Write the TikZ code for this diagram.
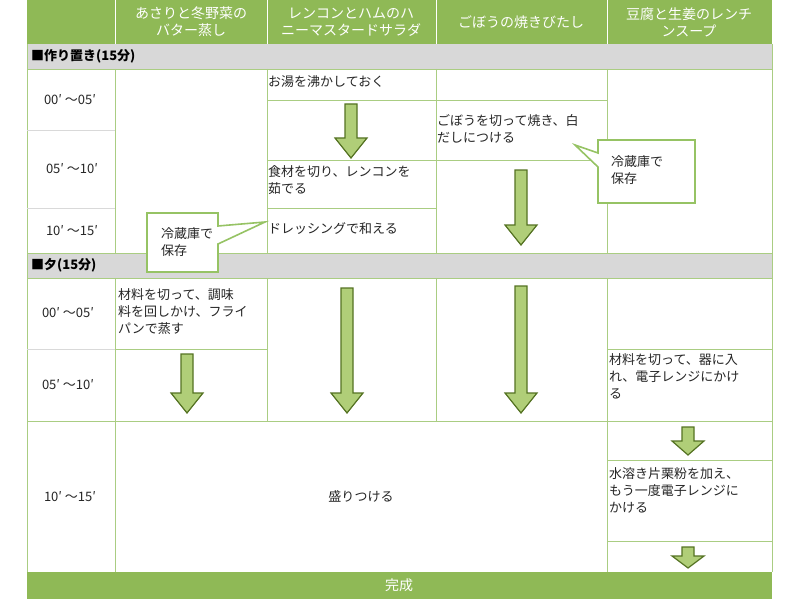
\documentclass[tikz,border=0pt]{standalone}
\usepackage{fontspec}
\setmainfont{Noto Sans CJK JP}
\begin{document}
\begin{tikzpicture}[x=1pt,y=-1pt,
  grid/.style={draw=gline,line width=0.8pt},
  txt/.style={anchor=north west,inner sep=1pt,align=left,font=\fontsize{13}{17}\selectfont,text=black!85},
  ctr/.style={inner sep=1pt,align=center,font=\fontsize{13}{16}\selectfont,text=black!85},
  hdr/.style={inner sep=1pt,align=center,font=\fontsize{14}{17}\selectfont,text=white},
  bar/.style={anchor=west,inner sep=2pt,font=\bfseries\fontsize{13}{15}\selectfont},
  blk/.style={fill=afill,draw=aline,line width=1.2pt,line join=miter},
  call/.style={fill=white,draw=gline2,line width=1.6pt}]
\definecolor{hgreen}{RGB}{143,185,86}
\definecolor{gline}{RGB}{170,205,130}
\definecolor{gline2}{RGB}{150,195,100}
\definecolor{afill}{RGB}{176,206,120}
\definecolor{aline}{RGB}{85,115,35}
\definecolor{gbar}{RGB}{216,216,216}
\newcommand\dnarr[4]{\draw[blk] (#1-6,#2) -- (#1+6,#2) -- (#1+6,#3-#4) -- (#1+16,#3-#4) -- (#1,#3) -- (#1-16,#3-#4) -- (#1-6,#3-#4) -- cycle;}
\fill[white] (0,0) rectangle (800,599);
\useasboundingbox (0,0) rectangle (800,599);
% header
\fill[hgreen] (27,0) rectangle (772,44);
\foreach \x in {115,267,436,607} \draw[white,line width=0.8pt] (\x,0) -- (\x,44);
\node[hdr] (h1) at (191,22) {あさりと冬野菜の\\バター蒸し};
\node[hdr] (h2) at (351,22) {レンコンとハムのハ\\ニーマスタードサラダ};
\node[hdr] (h3) at (521,22) {ごぼうの焼きびたし};
\node[hdr] (h4) at (689,22) {豆腐と生姜のレンチ\\ンスープ};
% section bars
\fill[gbar] (27,44) rectangle (772,69);
\node[bar] (s1) at (29,56.5) {■作り置き(15分)};
\fill[gbar] (27,253) rectangle (772,278);
\node[bar] (s2) at (29,265.5) {■夕(15分)};
% finish
\fill[hgreen] (27,572) rectangle (772,599);
\node[hdr] (fin) at (399,585) {完成};
% grid lines
\draw[grid] (27,44) -- (27,572) (772,44) -- (772,572);
\foreach \x in {115,267,436,607} \draw[grid] (\x,69) -- (\x,253) (\x,278) -- (\x,421);
\draw[grid] (115,421) -- (115,572) (607,421) -- (607,572);
\draw[grid] (27,69) -- (772,69) (27,253) -- (772,253) (27,278) -- (772,278) (27,421) -- (772,421);
\draw[draw=black!15,line width=0.8pt] (27,130) -- (115,130) (27,208) -- (115,208) (27,349) -- (115,349);
\draw[grid] (267,100) -- (607,100) (267,160) -- (607,160) (267,208) -- (436,208);
\draw[grid] (115,349) -- (267,349) (607,349) -- (772,349) (607,460) -- (772,460) (607,541) -- (772,541);
% time labels
\node[ctr] (t1) at (70,100) {00′ ～05′};
\node[ctr] (t2) at (72,169) {05′ ～10′};
\node[ctr] (t3) at (72,231) {10′ ～15′};
\node[ctr] (t4) at (68,313) {00′ ～05′};
\node[ctr] (t5) at (68,385) {05′ ～10′};
\node[ctr] (t6) at (70,497) {10′ ～15′};
% texts
\node[txt] (a1) at (267,74) {お湯を沸かしておく};
\node[txt] (a2) at (267,164) {食材を切り、レンコンを\\茹でる};
\node[txt] (a3) at (267,221) {ドレッシングで和える};
\node[txt] (b1) at (436,113) {ごぼうを切って焼き、白\\だしにつける};
\node[txt] (c1) at (117,287) {材料を切って、調味\\料を回しかけ、フライ\\パンで蒸す};
\node[txt] (d1) at (608,352) {材料を切って、器に入\\れ、電子レンジにかけ\\る};
\node[txt] (d2) at (608,466) {水溶き片栗粉を加え、\\もう一度電子レンジに\\かける};
\node[ctr] (m1) at (361,496) {盛りつける};
% arrows
\dnarr{351}{104}{158}{20}
\dnarr{521}{170}{245}{20}
\dnarr{187}{354}{413}{20}
\dnarr{347}{288}{413}{20}
\dnarr{521}{286}{413}{20}
\dnarr{688}{427}{455}{14}
\dnarr{688}{547}{568}{12}
% callouts
\draw[call] (147,213) -- (218,213) -- (218,226) -- (265,222) -- (218,244) -- (218,272) -- (147,272) -- cycle;
\node[txt] (k1) at (160,226) {冷蔵庫で\\保存};
\draw[call] (598,140) -- (695,140) -- (695,203) -- (598,203) -- (598,167) -- (575,145) -- (598,153) -- cycle;
\node[txt] (k2) at (610,154) {冷蔵庫で\\保存};
\end{tikzpicture}
\end{document}
